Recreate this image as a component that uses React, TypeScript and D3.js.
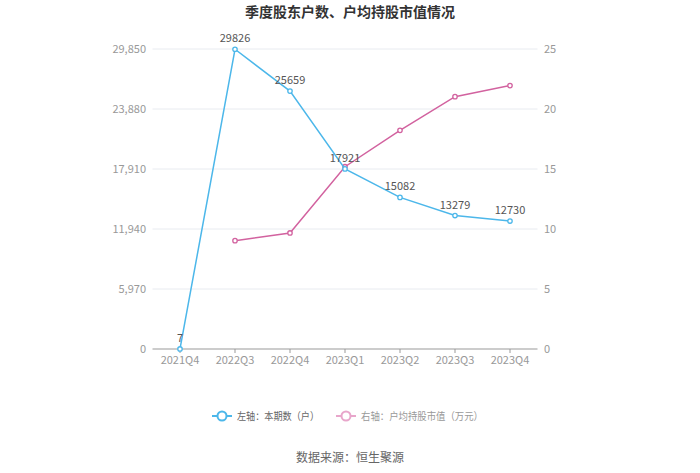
import React from "react";
import * as d3 from "d3";

const categories = ["2021Q4", "2022Q3", "2022Q4", "2023Q1", "2023Q2", "2023Q3", "2023Q4"];
const holders: number[] = [7, 29826, 25659, 17921, 15082, 13279, 12730];
const avgValue: (number | null)[] = [null, 9.03, 9.67, 15.19, 18.22, 21.03, 21.95];
const leftTicks = [0, 5970, 11940, 17910, 23880, 29850];
const rightTicks = [0, 5, 10, 15, 20, 25];

const W = 700, H = 473;
const left = 152.5, right = 537.5, top = 49, bottom = 349;
const BLUE = "#4cb7ea";
const PINK = "#d2629f";
const FONT = "'Noto Sans CJK SC', 'Noto Sans', sans-serif";

export default function App() {
  const x = d3.scalePoint<string>().domain(categories).range([left, right]).padding(0.5);
  const yL = d3.scaleLinear().domain([0, 29850]).range([bottom, top]);
  const yR = d3.scaleLinear().domain([0, 25]).range([bottom, top]);

  const lineL = d3.line<number>().x((_, i) => x(categories[i])!).y((d) => yL(d));
  const pinkPts = avgValue
    .map((v, i) => ({ v, c: categories[i] }))
    .filter((d) => d.v !== null) as { v: number; c: string }[];
  const lineR = d3.line<{ v: number; c: string }>().x((d) => x(d.c)!).y((d) => yR(d.v));

  return (
    <svg width={W} height={H} style={{ position: "absolute", left: 0, top: 0, fontFamily: FONT }}>
      <rect width={W} height={H} fill="#fff" />
      <text x={350} y={17} textAnchor="middle" fontSize={14} fontWeight="bold" fill="#333">
        季度股东户数、户均持股市值情况
      </text>
      {leftTicks.map((t, i) => (
        <g key={t}>
          {i > 0 && <line x1={left} x2={right} y1={yL(t)} y2={yL(t)} stroke="#e8ebf0" strokeWidth={1} />}
          <text x={146} y={yL(t)} dy="0.35em" textAnchor="end" fontSize={11} fill="#999">
            {d3.format(",")(t)}
          </text>
        </g>
      ))}
      {rightTicks.map((t) => (
        <text key={t} x={544} y={yR(t)} dy="0.35em" textAnchor="start" fontSize={11} fill="#999">
          {t}
        </text>
      ))}
      <line x1={left} x2={right} y1={bottom} y2={bottom} stroke="#999" strokeWidth={1} />
      {categories.map((c) => (
        <g key={c}>
          <line x1={x(c)!} x2={x(c)!} y1={bottom} y2={bottom + 4} stroke="#999" />
          <text x={x(c)!} y={bottom + 15} textAnchor="middle" fontSize={11} fill="#999">
            {c}
          </text>
        </g>
      ))}
      <path d={lineR(pinkPts)!} fill="none" stroke={PINK} strokeWidth={1.5} />
      {pinkPts.map((d) => (
        <circle key={d.c} cx={x(d.c)!} cy={yR(d.v)} r={2.2} fill="#fff" stroke={PINK} strokeWidth={1.3} />
      ))}
      <path d={lineL(holders)!} fill="none" stroke={BLUE} strokeWidth={1.5} />
      {holders.map((v, i) => (
        <g key={i}>
          <circle cx={x(categories[i])!} cy={yL(v)} r={2.2} fill="#fff" stroke={BLUE} strokeWidth={1.3} />
          <text x={x(categories[i])!} y={yL(v) - 7} textAnchor="middle" fontSize={11} fill="#555">
            {v}
          </text>
        </g>
      ))}
      <g transform="translate(212,416)">
        <line x1={0} x2={20} y1={0} y2={0} stroke={BLUE} strokeWidth={2} />
        <circle cx={10} cy={0} r={4.5} fill="#fff" stroke={BLUE} strokeWidth={2} />
        <text x={25} y={0} dy="0.35em" fontSize={10.5} fill="#666" textLength={82} lengthAdjust="spacingAndGlyphs">
          左轴：本期数（户）
        </text>
      </g>
      <g transform="translate(336,416)">
        <line x1={0} x2={20} y1={0} y2={0} stroke="#e8a6cb" strokeWidth={2} />
        <circle cx={10} cy={0} r={4.5} fill="#fff" stroke="#e8a6cb" strokeWidth={2} />
        <text x={25} y={0} dy="0.35em" fontSize={10.5} fill="#999" textLength={122} lengthAdjust="spacingAndGlyphs">
          右轴：户均持股市值（万元）
        </text>
      </g>
      <text x={350} y={458} dy="0.35em" textAnchor="middle" fontSize={12} fill="#666">
        数据来源：恒生聚源
      </text>
    </svg>
  );
}
